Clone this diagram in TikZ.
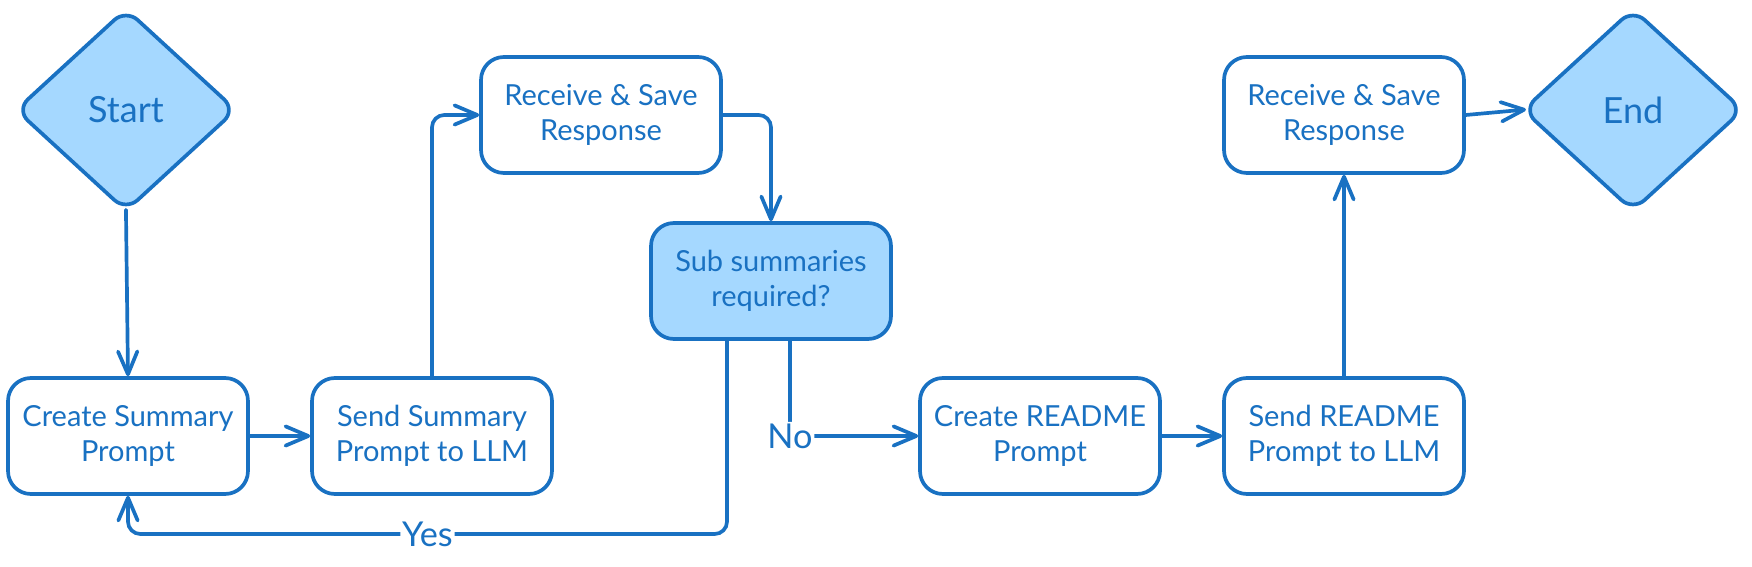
\documentclass[tikz,border=0pt]{standalone}
\usepackage{fontspec}
\setmainfont{Lato}
\usetikzlibrary{arrows.meta, positioning, shapes.geometric, calc}
\definecolor{inkblue}{HTML}{1971C2}
\definecolor{fillblue}{HTML}{A5D8FF}

\begin{document}
\begin{tikzpicture}[x=0.02cm, y=-0.02cm]
    % Define styles
    \tikzstyle{stepbox} = [rectangle, draw=inkblue, line width=2.1pt, rounded corners=13pt, minimum width=4.8cm, minimum height=2.32cm, align=center, text=inkblue, fill=white, font=\fontsize{16.5}{19.8}\selectfont]
    \tikzstyle{decision} = [stepbox, fill=fillblue]
    \tikzstyle{terminal} = [diamond, draw=inkblue, line width=2.1pt, rounded corners=9pt, minimum width=4.42cm, minimum height=4.06cm, inner sep=0pt, fill=fillblue, text=inkblue, font=\fontsize{20.5}{24}\selectfont]
    \tikzstyle{line} = [draw=inkblue, line width=2.1pt, line cap=round, rounded corners=7pt, -{Straight Barb[length=13pt, width=11pt, round]}]
    \tikzstyle{answer} = [fill=white, inner sep=1pt, text=inkblue, font=\fontsize{19.5}{23}\selectfont]

    \useasboundingbox (0,0) rectangle (1752,567);

    % Start and end
    \node[terminal] (start) at (126,110) {Start};
    \node[terminal] (end) at (1633,110) {End};

    % Summary steps
    \node[stepbox] (csum) at (128,436) {Create Summary\\Prompt};
    \node[stepbox] (ssum) at (432,436) {Send Summary\\Prompt to LLM};
    \node[stepbox] (rec1) at (601,115) {Receive \& Save\\Response};
    \node[decision] (sub) at (771,281) {Sub summaries\\required?};

    % README steps
    \node[stepbox] (crd) at (1040,436) {Create README\\Prompt};
    \node[stepbox] (srd) at (1344,436) {Send README\\Prompt to LLM};
    \node[stepbox] (rec2) at (1344,115) {Receive \& Save\\Response};

    % Helper points below the decision
    \coordinate (yesdrop) at ([xshift=-0.88cm]sub.south);
    \coordinate (nodrop) at ([xshift=0.38cm]sub.south);
    \coordinate (yesrow) at (0,534);

    % Connections
    \draw[line, shorten <=-2pt] (start.south) -- (csum.north);
    \draw[line] (csum.east) -- (ssum.west);
    \draw[line] (ssum.north) |- (rec1.west);
    \draw[line] (rec1.east) -| (sub.north);

    % Yes loops back, No goes on
    \draw[line] (yesdrop) -- (yesdrop |- yesrow) -- node[answer] {Yes} (csum.south |- yesrow) -- (csum.south);
    \draw[line] (nodrop) |- node[answer, pos=0.5] {No} (crd.west);

    \draw[line] (crd.east) -- (srd.west);
    \draw[line] (srd.north) -- (rec2.south);
    \draw[line, shorten >=-3pt] (rec2.east) -- (end.west);
\end{tikzpicture}
\end{document}
